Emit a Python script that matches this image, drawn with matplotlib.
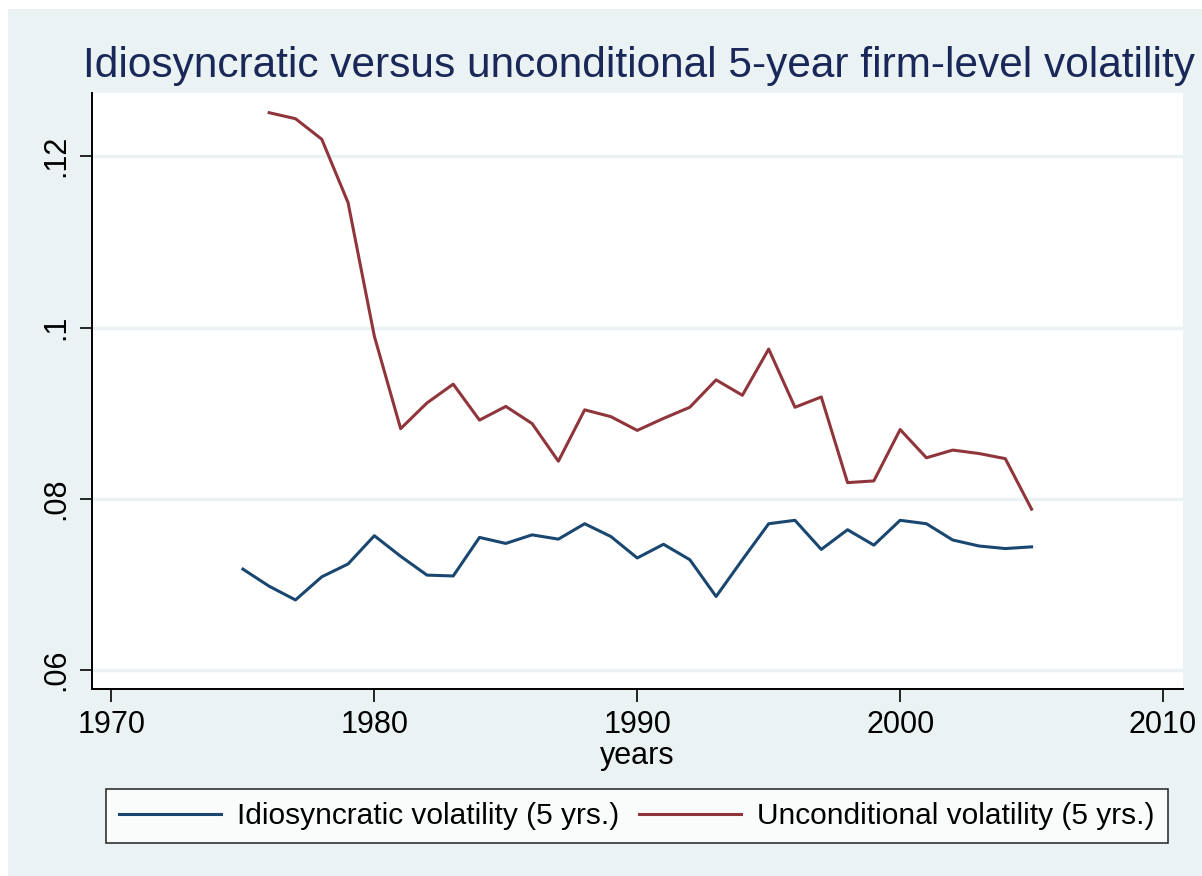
import matplotlib.pyplot as plt
from matplotlib.patches import Rectangle

# Data
years_idio = list(range(1975, 2006))
idio_vol = [
    0.0718, 0.0698, 0.0682, 0.0709, 0.0724, 0.0757, 0.0733, 0.0711, 0.0710, 0.0755,
    0.0748, 0.0758, 0.0753, 0.0771, 0.0756, 0.0731, 0.0747, 0.0729, 0.0686, 0.0729,
    0.0771, 0.0775, 0.0741, 0.0764, 0.0746, 0.0775, 0.0771, 0.0752, 0.0745, 0.0742,
    0.0744,
]
years_uncond = list(range(1976, 2006))
uncond_vol = [
    0.1251, 0.1244, 0.1220, 0.1146, 0.0990, 0.0882, 0.0912, 0.0934, 0.0892, 0.0908,
    0.0888, 0.0844, 0.0904, 0.0896, 0.0880, 0.0894, 0.0907, 0.0939, 0.0921, 0.0975,
    0.0907, 0.0919, 0.0819, 0.0821, 0.0881, 0.0848, 0.0857, 0.0853, 0.0847, 0.0788,
]
xticks = [1970, 1980, 1990, 2000, 2010]
yticks = [0.06, 0.08, 0.1, 0.12]
ytick_labels = [".06", ".08", ".1", ".12"]

navy = "#1A476F"
maroon = "#90353B"
bg = "#EAF2F3"

plt.rcParams["font.family"] = ["Liberation Sans", "DejaVu Sans"]

W, H = 1202, 876
fig = plt.figure(figsize=(W / 100, H / 100), dpi=100, facecolor="white")
fig.patches.append(
    Rectangle((8 / W, 0), 1 - 8 / W, (H - 9) / H, transform=fig.transFigure,
              facecolor=bg, edgecolor="none", zorder=-10)
)

ax = fig.add_axes([92 / W, 1 - 689 / H, (1183 - 92) / W, (689 - 93) / H])
ax.set_facecolor("white")

ax.plot(years_idio, idio_vol, color=navy, lw=2.2, label="Idiosyncratic volatility (5 yrs.)")
ax.plot(years_uncond, uncond_vol, color=maroon, lw=2.2, label="Unconditional volatility (5 yrs.)")

ax.set_xlim(1969.26, 2010.76)
ax.set_ylim(0.0578, 0.1274)
ax.set_xticks(xticks)
ax.set_yticks(yticks)
ax.set_yticklabels(ytick_labels, rotation=90, va="center")
ax.tick_params(axis="both", labelsize=22, length=9, width=1.2, color="black", pad=6)
ax.grid(axis="y", color=bg, lw=2.5)
ax.set_axisbelow(True)
for s in ["top", "right"]:
    ax.spines[s].set_visible(False)
for s in ["left", "bottom"]:
    ax.spines[s].set_linewidth(1.4)
ax.set_xlabel("years", fontsize=22, labelpad=1)

fig.text(639 / W, 1 - 77 / H, "Idiosyncratic versus unconditional 5-year firm-level volatility",
         ha="center", va="baseline", fontsize=30.5, color="#1A2859")

leg = fig.legend(
    loc="center", bbox_to_anchor=((103 + 1171) / 2 / W, 1 - 816 / H),
    ncol=2, fontsize=21.5, frameon=True, fancybox=False,
    edgecolor="black", handlelength=3.4, handletextpad=0.55,
    borderpad=0.45, columnspacing=0.65,
)
leg.get_frame().set_linewidth(1.2)

fig.savefig("out.png", dpi=100, facecolor="white")
